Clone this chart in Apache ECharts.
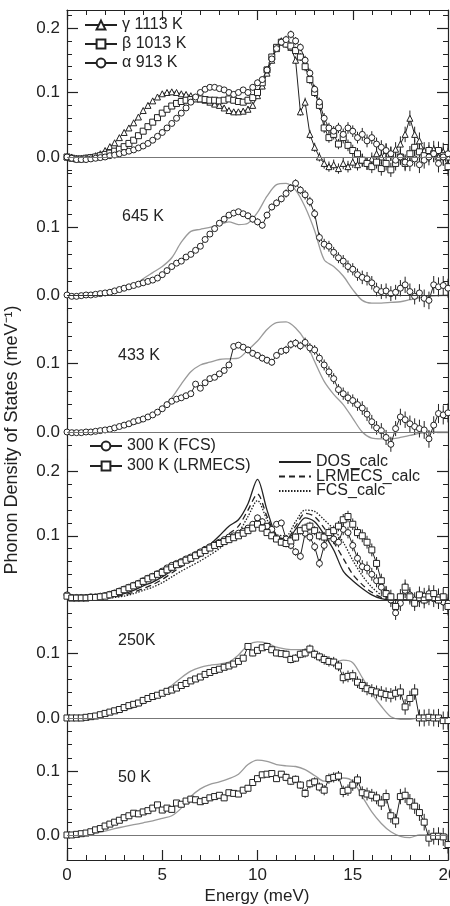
<!DOCTYPE html>
<html>
<head>
<meta charset="utf-8">
<title>Phonon DOS</title>
<script src="https://cdn.jsdelivr.net/npm/echarts@6/dist/echarts.min.js"></script>
<style>
  html, body { margin: 0; padding: 0; background: #fff; }
  #chart { width: 450px; height: 906px; }
</style>
</head>
<body>
<div id="chart"></div>
<script>
// energy grids (meV)
var energyFine = [0,0.25,0.5,0.75,1,1.25,1.5,1.75,2,2.25,2.5,2.75,3,3.25,3.5,3.75,4,4.25,4.5,4.75,
  5,5.25,5.5,5.75,6,6.25,6.5,6.75,7,7.25,7.5,7.75,8,8.25,8.5,8.75,9,9.25,9.5,9.75,
  10,10.25,10.5,10.75,11,11.25,11.5,11.75,12,12.25,12.5,12.75,13,13.25,13.5,13.75,14,14.25,14.5,14.75,
  15,15.25,15.5,15.75,16,16.25,16.5,16.75,17,17.25,17.5,17.75,18,18.25,18.5,18.75,19,19.25,19.5,19.75,20];
var energyCoarse = [0,0.5,1,1.5,2,2.5,3,3.5,4,4.5,5,5.5,6,6.5,7,7.5,8,8.5,9,9.5,
  10,10.5,11,11.5,12,12.5,13,13.5,14,14.5,15,15.5,16,16.5,17,17.5,18,18.5,19,19.5,20];

// panel 1 : high temperature phases
var gamma1113 = [0,0,-0.002,-0.002,-0.001,0,0.002,0.005,
  0.01,0.016,0.022,0.03,0.038,0.045,0.053,0.062,
  0.072,0.08,0.087,0.093,0.098,0.1,0.101,0.1,
  0.098,0.097,0.095,0.093,0.09,0.088,0.085,0.082,
  0.08,0.076,0.072,0.07,0.07,0.071,0.074,0.08,
  0.095,0.11,0.13,0.15,0.168,0.18,0.178,0.17,
  0.15,0.07,0.085,0.035,0.015,0,-0.01,-0.015,
  -0.012,-0.018,-0.01,-0.015,-0.008,-0.012,-0.005,-0.01,
  -0.003,0.005,0,0.01,0.005,0.012,0.02,0.035,
  0.06,0.035,0.025,0.01,0.005,0.012,0,0.008,0];
var beta1013 = [0,-0.002,-0.003,-0.003,-0.002,-0.001,0,0.002,
  0.004,0.006,0.009,0.012,0.016,0.021,0.026,0.033,
  0.04,0.047,0.054,0.061,0.068,0.074,0.079,0.083,
  0.086,0.088,0.089,0.09,0.09,0.089,0.088,0.088,
  0.087,0.088,0.09,0.088,0.086,0.085,0.088,0.092,
  0.1,0.115,0.135,0.155,0.17,0.178,0.175,0.172,
  0.165,0.155,0.14,0.12,0.1,0.08,0.045,0.03,
  0.035,0.02,0.03,0.018,0.01,0.005,-0.005,-0.01,
  -0.015,-0.008,-0.018,-0.01,-0.02,-0.01,0,-0.01,
  0.005,0.015,0.008,0.002,0.01,0.005,0.01,0.002,-0.015];
var alpha913 = [0,-0.002,-0.004,-0.004,-0.004,-0.003,-0.002,-0.001,
  0,0.002,0.003,0.005,0.007,0.009,0.011,0.014,
  0.017,0.021,0.026,0.032,0.038,0.045,0.052,0.06,
  0.068,0.076,0.085,0.093,0.1,0.105,0.108,0.108,
  0.106,0.104,0.1,0.097,0.1,0.104,0.1,0.108,
  0.115,0.12,0.135,0.152,0.168,0.178,0.182,0.19,
  0.18,0.17,0.15,0.13,0.105,0.085,0.06,0.045,
  0.04,0.045,0.035,0.045,0.04,0.03,0.035,0.025,
  0.03,0.02,0.015,0.01,0.005,-0.005,0,-0.008,
  -0.01,-0.003,-0.012,-0.005,0,0.005,-0.01,0,0.005];

// panel 2 : 645 K
var exp645 = [0,-0.002,-0.002,-0.001,0,0,0.001,0.002,
  0.003,0.004,0.006,0.008,0.01,0.012,0.014,0.016,
  0.018,0.02,0.022,0.025,0.03,0.036,0.042,0.047,
  0.05,0.056,0.06,0.066,0.072,0.082,0.09,0.098,
  0.106,0.112,0.118,0.121,0.123,0.12,0.117,0.112,
  0.108,0.103,0.118,0.13,0.136,0.142,0.15,0.158,
  0.165,0.155,0.148,0.138,0.12,0.085,0.075,0.072,
  0.063,0.055,0.05,0.042,0.038,0.03,0.026,0.024,
  0.018,0.008,0.005,0.006,0.002,0.004,0.01,0.015,
  0.005,-0.002,0.003,-0.005,-0.008,0.015,0.012,0.014,0.01];
var calc645 = [0,0,0,0.001,0.002,0.004,0.008,0.014,0.024,0.033,
  0.042,0.055,0.078,0.094,0.097,0.1,0.104,0.108,0.104,0.106,
  0.122,0.146,0.163,0.165,0.155,0.13,0.095,0.052,0.042,0.028,
  0.008,-0.008,-0.012,-0.012,-0.011,-0.01,-0.007,-0.004,-0.002,-0.001,0];

// panel 3 : 433 K
var exp433 = [0,-0.001,-0.001,-0.001,0,0,0.001,0.002,
  0.003,0.004,0.006,0.008,0.01,0.012,0.015,0.017,
  0.019,0.022,0.025,0.029,0.034,0.04,0.045,0.048,
  0.05,0.053,0.056,0.07,0.064,0.072,0.078,0.08,
  0.085,0.09,0.098,0.125,0.127,0.124,0.12,0.115,
  0.112,0.108,0.105,0.102,0.112,0.118,0.12,0.128,
  0.13,0.126,0.131,0.123,0.12,0.108,0.098,0.088,
  0.078,0.062,0.056,0.05,0.046,0.04,0.035,0.026,
  0.015,0.006,0.002,-0.008,-0.018,0.005,0.022,0.018,
  0.012,0.008,0.005,0.003,-0.01,0.01,0.027,0.025,0.028];
var calc433 = [0,0,0,0.001,0.002,0.004,0.007,0.011,0.016,0.024,
  0.036,0.05,0.07,0.088,0.098,0.102,0.106,0.107,0.108,0.12,
  0.133,0.15,0.16,0.161,0.152,0.134,0.103,0.074,0.055,0.04,
  0.02,0,-0.009,-0.01,-0.01,-0.008,-0.005,-0.002,0,0,0];

// panel 4 : 300 K, two spectrometers and three calculations
var fcs300 = [0.008,0.004,0.004,0.004,0.004,0.005,0.005,0.006,
  0.007,0.009,0.011,0.014,0.017,0.02,0.023,0.026,
  0.03,0.034,0.037,0.041,0.045,0.05,0.054,0.057,
  0.06,0.064,0.067,0.071,0.075,0.079,0.083,0.087,
  0.09,0.094,0.098,0.1,0.104,0.107,0.112,0.118,
  0.128,0.122,0.115,0.11,0.118,0.12,0.095,0.085,
  0.075,0.068,0.104,0.098,0.083,0.057,0.085,0.1,
  0.095,0.09,0.11,0.105,0.085,0.065,0.052,0.05,
  0.04,0.03,0.02,0.011,0,-0.02,-0.005,0.015,
  0.008,0,0.002,0.006,0.01,0.002,0.004,-0.003,-0.005];
var lrmecs300 = [0.006,0.003,0.003,0.003,0.003,0.004,0.004,0.005,
  0.006,0.008,0.01,0.013,0.016,0.019,0.022,0.025,
  0.029,0.033,0.036,0.04,0.043,0.047,0.051,0.055,
  0.058,0.062,0.065,0.069,0.073,0.077,0.081,0.085,
  0.088,0.091,0.094,0.097,0.1,0.104,0.108,0.112,
  0.118,0.112,0.105,0.1,0.095,0.09,0.088,0.092,
  0.098,0.108,0.112,0.115,0.108,0.1,0.098,0.105,
  0.108,0.115,0.125,0.13,0.118,0.105,0.1,0.09,
  0.078,0.057,0.03,0.01,0.005,-0.01,0.005,0.02,
  0.005,-0.005,0.008,0,0.005,0.01,0,0.005,-0.01];
var dosCalc = [0,0,0.001,0.002,0.003,0.006,0.01,0.015,0.022,0.028,
  0.036,0.046,0.056,0.064,0.074,0.086,0.1,0.115,0.125,0.15,
  0.188,0.14,0.1,0.092,0.11,0.128,0.122,0.102,0.078,0.045,
  0.03,0.018,0.008,0.002,0,0,0,0,0,0,0];
var lrmecsCalc = [0,0,0.001,0.002,0.003,0.005,0.008,0.012,0.018,0.024,
  0.032,0.042,0.052,0.06,0.068,0.078,0.09,0.103,0.115,0.14,
  0.165,0.13,0.1,0.095,0.115,0.135,0.13,0.112,0.09,0.065,
  0.04,0.024,0.012,0.004,0,0,0,0,0,0,0];
var fcsCalc = [0,0,0.001,0.002,0.003,0.004,0.006,0.01,0.015,0.02,
  0.027,0.036,0.045,0.053,0.061,0.07,0.08,0.092,0.105,0.13,
  0.155,0.125,0.102,0.1,0.122,0.14,0.138,0.125,0.11,0.09,
  0.062,0.038,0.02,0.008,0.002,0,0,0,0,0,0];

// panel 5 : 250 K
var exp250 = [0,0,0,0,0.001,0.002,0.003,0.005,
  0.007,0.009,0.011,0.013,0.016,0.019,0.021,0.023,
  0.027,0.03,0.033,0.035,0.038,0.041,0.043,0.046,
  0.05,0.053,0.057,0.06,0.063,0.067,0.07,0.073,
  0.075,0.078,0.08,0.083,0.087,0.092,0.11,0.1,
  0.104,0.108,0.11,0.105,0.1,0.099,0.098,0.09,
  0.092,0.098,0.1,0.106,0.098,0.094,0.09,0.087,
  0.086,0.08,0.062,0.064,0.065,0.055,0.05,0.045,
  0.042,0.04,0.038,0.036,0.035,0.038,0.04,0.017,
  0.03,0.04,0,0,0.001,0,0,-0.004,-0.004];
var calc250 = [0,0,0.001,0.002,0.005,0.008,0.012,0.016,0.022,0.03,
  0.04,0.05,0.062,0.072,0.078,0.081,0.083,0.086,0.097,0.112,
  0.117,0.115,0.109,0.106,0.105,0.105,0.099,0.092,0.085,0.089,
  0.085,0.062,0.038,0.018,0.002,-0.002,-0.002,0,0,0,0];

// panel 6 : 50 K
var exp50 = [0,0,0.001,0.002,0.003,0.005,0.008,0.01,
  0.014,0.017,0.02,0.023,0.027,0.03,0.034,0.033,
  0.036,0.038,0.042,0.047,0.039,0.042,0.04,0.05,
  0.048,0.053,0.056,0.055,0.052,0.054,0.058,0.06,
  0.062,0.058,0.066,0.065,0.064,0.07,0.073,0.082,
  0.088,0.094,0.095,0.096,0.088,0.095,0.09,0.084,
  0.087,0.078,0.065,0.08,0.083,0.075,0.07,0.088,
  0.09,0.092,0.068,0.07,0.078,0.086,0.066,0.064,
  0.062,0.058,0.05,0.06,0.03,0.022,0.06,0.062,
  0.052,0.045,0.035,0.02,-0.005,-0.002,-0.002,-0.003,-0.015];
var calc50 = [0,0,0.001,0.003,0.006,0.01,0.013,0.016,0.019,0.022,
  0.026,0.03,0.042,0.06,0.072,0.079,0.083,0.088,0.095,0.11,
  0.117,0.115,0.11,0.108,0.107,0.102,0.093,0.084,0.086,0.089,
  0.084,0.06,0.036,0.018,0.005,-0.002,-0.004,0,0,0,0];

// half length of the error bars, one value per meV (0..20)
var errBand = [0,0,0.001,0.001,0.002,0.002,0.003,0.003,0.004,0.004,0.005,
  0.005,0.006,0.007,0.008,0.009,0.01,0.011,0.012,0.013,0.014];

// tick labels
var xTickLabels = [0, 5, 10, 15, 20];
var yTickLabels = [[0, 0.1, 0.2], [0, 0.1], [0, 0.1], [0.1, 0.2], [0, 0.1], [0, 0.1]];
var yMajorTicks = [[0, 0.1, 0.2], [0, 0.1], [0, 0.1], [0, 0.1, 0.2], [0, 0.1], [0, 0.1]];
var panelLabels = ['', '645 K', '433 K', '', '250K', '50 K'];

var ink = '#222';
var grey = '#9a9a9a';
var font = '"Liberation Sans", Arial, Helvetica, sans-serif';

// layout of the six stacked panels (pixels and value ranges)
var panels = [
  {top: 10,  bottom: 172, min: -0.0233, max: 0.2279},
  {top: 172, bottom: 310, min: -0.0222, max: 0.1817},
  {top: 310, bottom: 459, min: -0.0395, max: 0.1784},
  {top: 459, bottom: 618, min: -0.028,  max: 0.2196},
  {top: 618, bottom: 748, min: -0.0462, max: 0.1538},
  {top: 748, bottom: 860, min: -0.0391, max: 0.1359}
];
var labelPos = [null, [122, 217], [118, 356], null, [118, 641], [118, 778]];
var nPanels = panels.length;

function pairs(xs, ys) {
  return xs.map(function (x, k) { return [x, ys[k]]; });
}

function minorValues(p) {
  var out = [];
  for (var v = Math.ceil(p.min / 0.02); v * 0.02 <= p.max; v++) {
    out.push(Math.round(v * 2) / 100);
  }
  return out;
}

var grids = [], xAxes = [], yAxes = [], series = [];

// grids 0..5 hold the data and the long ticks, grids 6..11 sit on top and carry the short ticks
function addGrid(p, i, minorLayer) {
  var g = grids.length;
  var isTop = i === 0, isBottom = i === nPanels - 1;
  grids.push({left: 67, right: 2, top: p.top, height: p.bottom - p.top,
    outerBoundsMode: 'none', containLabel: false});
  xAxes.push({
    type: 'value', gridIndex: g, min: 0, max: 20, interval: 5,
    position: isTop ? 'top' : 'bottom',
    show: !minorLayer && (isTop || isBottom),
    axisLine: {show: true, onZero: false, lineStyle: {color: ink, width: 1.2}},
    axisTick: {show: true, inside: true, length: 10, lineStyle: {color: ink, width: 1.2}},
    minorTick: {show: true, splitNumber: 5, length: 5, lineStyle: {color: ink, width: 1}},
    axisLabel: {show: isBottom, color: ink, fontSize: 17, fontFamily: font, margin: 7,
      customValues: xTickLabels},
    splitLine: {show: false}
  });
  ['left', 'right'].forEach(function (side) {
    yAxes.push({
      type: 'value', gridIndex: g, min: p.min, max: p.max, position: side,
      axisLine: {show: !minorLayer, onZero: false, lineStyle: {color: ink, width: 1.2}},
      axisTick: {show: true, inside: true, length: minorLayer ? 5 : 11,
        customValues: minorLayer ? minorValues(p) : yMajorTicks[i],
        lineStyle: {color: ink, width: minorLayer ? 1 : 1.2}},
      axisLabel: {show: !minorLayer && side === 'left',
        customValues: minorLayer ? [] : yTickLabels[i], color: ink,
        fontSize: 17, fontFamily: font, margin: 7,
        formatter: function (v) { return v.toFixed(1); }},
      splitLine: {show: false}
    });
  });
}
panels.forEach(function (p, i) { addGrid(p, i, false); });
panels.forEach(function (p, i) { addGrid(p, i, true); });

function expSeries(name, panel, values, symbol) {
  return {
    name: name, type: 'line', xAxisIndex: panel, yAxisIndex: panel * 2,
    data: pairs(energyFine, values),
    symbol: symbol, symbolSize: 6, showSymbol: true,
    itemStyle: {color: '#fff', borderColor: ink, borderWidth: 1},
    lineStyle: {color: ink, width: 1},
    z: 4
  };
}

function errSeries(panel, values) {
  return {
    type: 'custom', xAxisIndex: panel, yAxisIndex: panel * 2, silent: true, z: 3,
    data: energyFine.map(function (e, k) { return [e, values[k], errBand[Math.round(e)]]; }),
    renderItem: function (params, api) {
      var x = api.value(0), y = api.value(1), d = api.value(2);
      var a = api.coord([x, y - d]), b = api.coord([x, y + d]);
      return {type: 'line', shape: {x1: a[0], y1: a[1], x2: b[0], y2: b[1]},
        style: {stroke: ink, lineWidth: 1}};
    }
  };
}

function calcSeries(name, panel, values, color, type) {
  return {
    name: name, type: 'line', xAxisIndex: panel, yAxisIndex: panel * 2,
    data: pairs(energyCoarse, values), smooth: 0.3,
    symbol: 'none', showSymbol: false,
    itemStyle: {color: 'rgba(0,0,0,0)', borderWidth: 0},
    lineStyle: {color: color, width: 1.3, type: type || 'solid'},
    z: 2
  };
}

function zeroLine(panel, color) {
  return {
    type: 'line', xAxisIndex: panel, yAxisIndex: panel * 2, data: [], silent: true,
    markLine: {silent: true, symbol: 'none', label: {show: false},
      lineStyle: {color: color, width: 1.2, type: 'solid'},
      data: [{yAxis: 0}]},
    z: 1
  };
}

series.push(zeroLine(0, '#777'));
series.push(errSeries(0, gamma1113), errSeries(0, beta1013), errSeries(0, alpha913));
series.push(expSeries('γ 1113 K', 0, gamma1113, 'triangle'));
series.push(expSeries('β 1013 K', 0, beta1013, 'rect'));
series.push(expSeries('α 913 K', 0, alpha913, 'circle'));

series.push(zeroLine(1, '#333'));
series.push(calcSeries('calc 645 K', 1, calc645, grey));
series.push(errSeries(1, exp645));
series.push(expSeries('645 K', 1, exp645, 'circle'));

series.push(zeroLine(2, '#777'));
series.push(calcSeries('calc 433 K', 2, calc433, grey));
series.push(errSeries(2, exp433));
series.push(expSeries('433 K', 2, exp433, 'circle'));

series.push(zeroLine(3, '#333'));
series.push(calcSeries('DOS_calc', 3, dosCalc, ink, 'solid'));
series.push(calcSeries('LRMECS_calc', 3, lrmecsCalc, ink, [6, 4]));
series.push(calcSeries('FCS_calc', 3, fcsCalc, ink, [1.5, 1.5]));
series.push(errSeries(3, fcs300), errSeries(3, lrmecs300));
series.push(expSeries('300 K (FCS)', 3, fcs300, 'circle'));
series.push(expSeries('300 K (LRMECS)', 3, lrmecs300, 'rect'));

series.push(zeroLine(4, '#777'));
series.push(calcSeries('calc 250 K', 4, calc250, grey));
series.push(errSeries(4, exp250));
series.push(expSeries('250K', 4, exp250, 'rect'));

series.push(zeroLine(5, '#777'));
series.push(calcSeries('calc 50 K', 5, calc50, grey));
series.push(errSeries(5, exp50));
series.push(expSeries('50 K', 5, exp50, 'rect'));

var legendText = {fontSize: 16, color: ink, fontFamily: font};
var legends = [
  {data: ['γ 1113 K', 'β 1013 K', 'α 913 K'], left: 84, top: 17, itemGap: 3},
  {data: ['300 K (FCS)', '300 K (LRMECS)'], left: 89, top: 438, itemGap: 4},
  {data: ['DOS_calc', 'LRMECS_calc', 'FCS_calc'], left: 278, top: 454, itemGap: -1.5}
].map(function (l) {
  return {
    data: l.data, left: l.left, top: l.top, orient: 'vertical', itemGap: l.itemGap,
    itemWidth: 32, itemHeight: 11, selectedMode: false, padding: 0,
    textStyle: legendText
  };
});

var graphics = [];
panelLabels.forEach(function (t, i) {
  if (!t) return;
  graphics.push({type: 'text', x: labelPos[i][0], y: labelPos[i][1],
    style: {text: t, fill: ink, font: '16px ' + font, verticalAlign: 'middle'}});
});
graphics.push({type: 'text', x: 12, y: 440, rotation: Math.PI / 2,
  style: {text: 'Phonon Density of States (meV\u207B\u00B9)', fill: ink, font: '18px ' + font,
    align: 'center', verticalAlign: 'middle'}});
graphics.push({type: 'text', x: 257, y: 896,
  style: {text: 'Energy (meV)', fill: ink, font: '17px ' + font,
    align: 'center', verticalAlign: 'middle'}});

var chart = echarts.init(document.getElementById('chart'), null, {renderer: 'canvas'});
chart.setOption({
  animation: false,
  backgroundColor: '#fff',
  grid: grids,
  xAxis: xAxes,
  yAxis: yAxes,
  legend: legends,
  graphic: graphics,
  series: series
});
</script>
</body>
</html>
